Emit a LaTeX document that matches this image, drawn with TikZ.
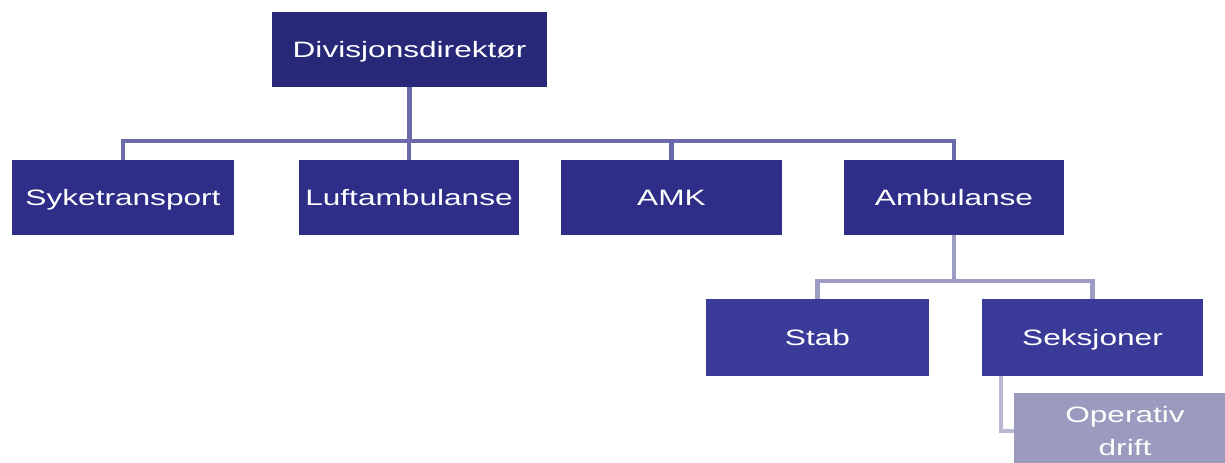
\documentclass[tikz,border=0pt]{standalone}
\usepackage{fontspec}
\setmainfont{Liberation Sans}
\newfontfamily\boxfont[FakeStretch=1.42]{Liberation Sans}
\definecolor{topc}{HTML}{282878}
\definecolor{midc}{HTML}{2E2E88}
\definecolor{lowc}{HTML}{3A3A98}
\definecolor{opc}{HTML}{9B9BC0}
\definecolor{lineA}{HTML}{6A6AAA}
\definecolor{lineB}{HTML}{9C9CC4}
\definecolor{lineC}{HTML}{B8B8D2}
\tikzset{
  orgbox/.style={rectangle, inner sep=0pt, text=white, align=center,
    font=\boxfont\fontsize{16.7pt}{24.75pt}\selectfont,
    text height=12pt, text depth=0pt,
    minimum height=56.25pt},
  conn/.style={line width=3.4pt, line join=miter, line cap=butt}
}
\begin{document}
\begin{tikzpicture}[x=0.75pt,y=-0.75pt]
\clip (0,0) rectangle (1225,463);
\fill[white] (0,0) rectangle (1225,463);
\node[orgbox, fill=topc, minimum width=206.25pt] (div) at (409.5,49.5) {Divisjonsdirektør};
\node[orgbox, fill=midc, minimum width=166.5pt] (syk) at (123,197.5) {Syketransport};
\node[orgbox, fill=midc, minimum width=165pt] (luf) at (409,197.5) {Luftambulanse};
\node[orgbox, fill=midc, minimum width=165.75pt] (amk) at (671.5,197.5) {AMK};
\node[orgbox, fill=midc, minimum width=165pt] (amb) at (954,197.5) {Ambulanse};
\node[orgbox, fill=lowc, minimum width=167.25pt, minimum height=57.75pt] (stab) at (817.5,337.5) {Stab};
\node[orgbox, fill=lowc, minimum width=165.75pt, minimum height=57.75pt] (sek) at (1092.5,337.5) {Seksjoner};
\node[orgbox, fill=opc, minimum width=166.5pt, minimum height=57pt, text height=36.75pt] (op) at (1125,431) {Operativ\\drift};
\coordinate (bus) at (0,141);
\coordinate (bus2) at (0,281);
\draw[conn, lineA] (div.south) -- (div.south |- bus);
\draw[conn, lineA] (syk.north) -- (syk.north |- bus) -- (amb.north |- bus) -- (amb.north);
\draw[conn, lineA] (luf.north) -- (luf.north |- bus);
\draw[conn, lineA] (amk.north) -- (amk.north |- bus);
\draw[conn, lineB] (amb.south) -- (amb.south |- bus2);
\draw[conn, lineB] (stab.north) -- (stab.north |- bus2) -- (sek.north |- bus2) -- (sek.north);
\draw[conn, lineC] ([xshift=14.6pt]sek.south west) |- (op.west);
\end{tikzpicture}
\end{document}
